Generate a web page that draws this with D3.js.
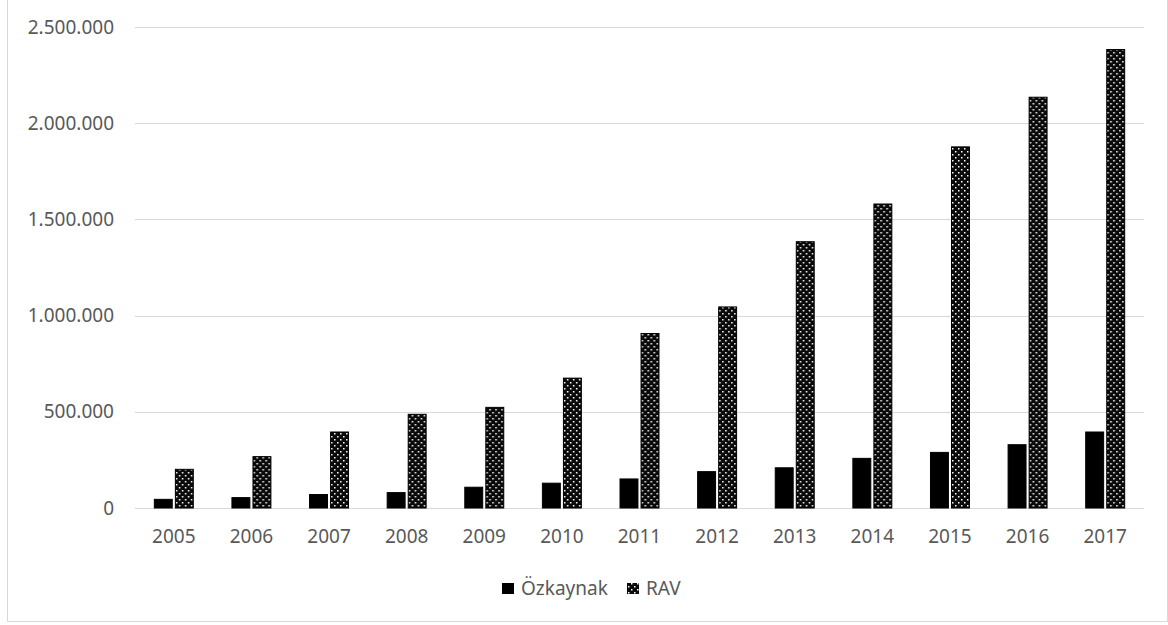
<!DOCTYPE html>
<html>
<head>
<meta charset="utf-8">
<script src="https://cdn.jsdelivr.net/npm/d3@7"></script>
<style>
  body { margin: 0; background: #fff; }
  text { font-family: "Noto Sans", sans-serif; fill: #595959; }
</style>
</head>
<body>
<svg id="chart" width="1168" height="625"></svg>
<script>
// Özkaynak / RAV, 2005-2017
var years = ["2005","2006","2007","2008","2009","2010","2011","2012","2013","2014","2015","2016","2017"];
var seriesNames = ["Özkaynak", "RAV"];
var ozkaynak = [45000, 54000, 70000, 80000, 108000, 129000, 151000, 189000, 209000, 258000, 289000, 329000, 395000];
var rav = [201000, 267000, 395000, 487000, 523000, 675000, 907000, 1045000, 1384000, 1580000, 1877000, 2135000, 2383000];
var yTicks = [0, 500000, 1000000, 1500000, 2000000, 2500000];

var svg = d3.select("#chart");

// outer chart border
svg.append("rect")
  .attr("x", 7.5).attr("y", -1)
  .attr("width", 1160).attr("height", 622.5)
  .attr("fill", "none").attr("stroke", "#d9d9d9");

// dotted fill for RAV: dark ground, small white staggered dots
var pat = svg.append("defs").append("pattern")
  .attr("id", "dots").attr("patternUnits", "userSpaceOnUse")
  .attr("width", 6).attr("height", 6);
pat.append("rect").attr("width", 6).attr("height", 6).attr("fill", "#0a0a0a");
pat.append("rect").attr("x", 1).attr("y", 1).attr("width", 1.5).attr("height", 1.5).attr("fill", "#fff");
pat.append("rect").attr("x", 4).attr("y", 4).attr("width", 1.5).attr("height", 1.5).attr("fill", "#fff");

// plot area (don't use "top" as a name, it clashes with window.top)
var plotL = 135, plotR = 1144, plotT = 27, plotB = 508;

var x = d3.scaleBand().domain(years).range([plotL, plotR])
  .paddingInner(0.485).paddingOuter(0.2425);
var x1 = d3.scaleBand().domain(seriesNames).range([0, x.bandwidth()]).paddingInner(0.1);
var y = d3.scaleLinear().domain([0, 2500000]).range([plotB, plotT]);

var fmt = function (d) { return d3.format(",")(d).replace(/,/g, "."); };

// gridlines
svg.append("g").selectAll("line").data(yTicks).join("line")
  .attr("x1", plotL).attr("x2", plotR)
  .attr("y1", function (d) { return Math.round(y(d)) + 0.5; })
  .attr("y2", function (d) { return Math.round(y(d)) + 0.5; })
  .attr("stroke", "#d9d9d9").attr("stroke-width", 1);

// y labels
svg.append("g").selectAll("text").data(yTicks).join("text")
  .attr("x", 114).attr("y", function (d) { return y(d); })
  .attr("dy", "0.35em").attr("text-anchor", "end")
  .style("font-size", "19px")
  .text(fmt);

// x labels
svg.append("g").selectAll("text").data(years).join("text")
  .attr("x", function (d) { return x(d) + x.bandwidth() / 2; })
  .attr("y", 536).attr("dy", "0.35em").attr("text-anchor", "middle")
  .style("font-size", "19px")
  .text(function (d) { return d; });

// bars
var rows = years.map(function (yr, i) {
  return { year: yr, vals: [{ s: "Özkaynak", v: ozkaynak[i] }, { s: "RAV", v: rav[i] }] };
});

var groups = svg.append("g").selectAll("g").data(rows).join("g")
  .attr("transform", function (d) { return "translate(" + x(d.year) + ",0)"; });

groups.selectAll("rect").data(function (d) { return d.vals; }).join("rect")
  .attr("x", function (d) { return x1(d.s) + 0.5; })
  .attr("y", function (d) { return y(d.v); })
  .attr("width", x1.bandwidth() - 1)
  .attr("height", function (d) { return plotB - y(d.v); })
  .attr("fill", function (d) { return d.s === "RAV" ? "url(#dots)" : "#000"; })
  .attr("stroke", "#000")
  .attr("stroke-width", 1);

// legend
var legend = svg.append("g");
var legItems = [
  { name: "Özkaynak", x: 502, fill: "#000" },
  { name: "RAV", x: 627, fill: "url(#dots)" }
];
legItems.forEach(function (it) {
  legend.append("rect")
    .attr("x", it.x).attr("y", 583)
    .attr("width", 12).attr("height", 11)
    .attr("fill", it.fill);
  legend.append("text")
    .attr("x", it.x + 19).attr("y", 588).attr("dy", "0.35em")
    .style("font-size", "19px")
    .text(it.name);
});
</script>
</body>
</html>
